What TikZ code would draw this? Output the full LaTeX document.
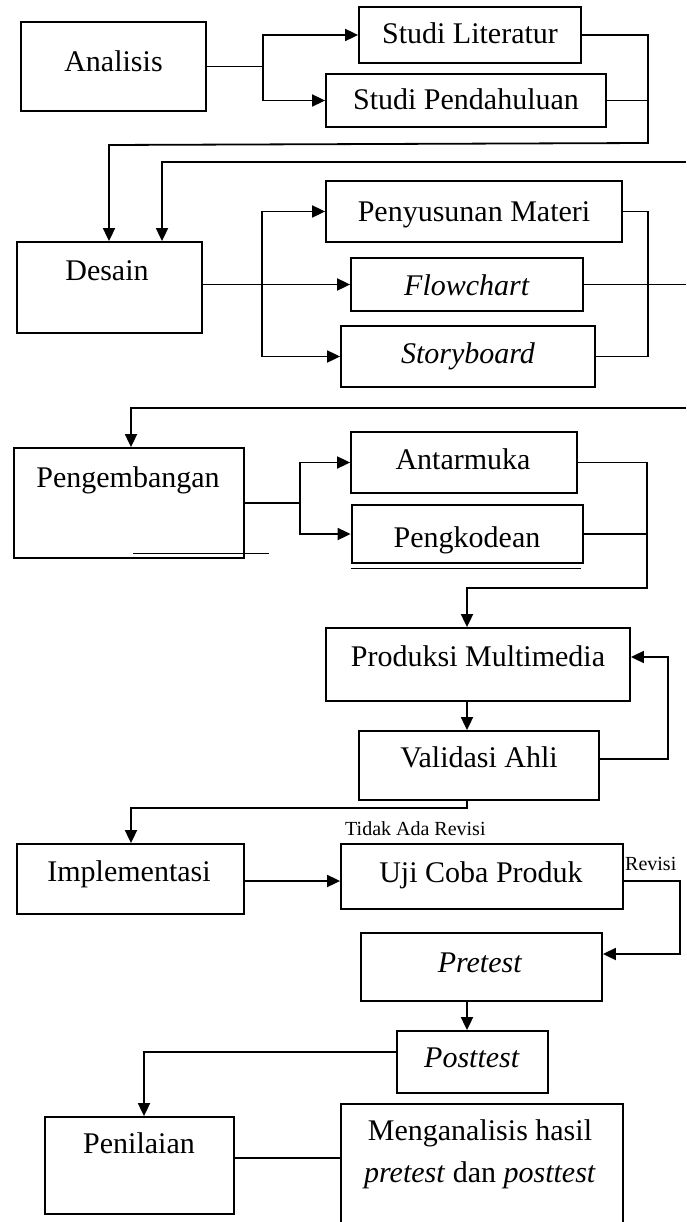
\documentclass[tikz,border=0pt]{standalone}
\usepackage{fontspec}
\setmainfont{Liberation Serif}
\usetikzlibrary{arrows.meta,calc}
\begin{document}
\begin{tikzpicture}[x=1pt,y=-1pt,
  box/.style={draw, line width=1.8pt, inner sep=0pt, rectangle},
  txt/.style={anchor=base, inner sep=0pt, font=\fontsize{30}{34}\selectfont},
  small/.style={anchor=base west, inner sep=0pt, font=\fontsize{20}{22}\selectfont},
  conn/.style={line width=1.8pt},
  arr/.style={conn, -{Triangle[length=13pt,width=12pt]}}
]
\useasboundingbox (0,0) rectangle (686,1222);

% boxes
\node[box, minimum width=185pt, minimum height=89pt] (ana) at (113.5,66.5) {};
\node[box, minimum width=222pt, minimum height=56pt] (sl) at (470,35) {};
\node[box, minimum width=280pt, minimum height=53pt] (sp) at (466,100.5) {};
\node[box, minimum width=185pt, minimum height=91pt] (des) at (109.5,287.5) {};
\node[box, minimum width=296pt, minimum height=61pt] (pm) at (474,211.5) {};
\node[box, minimum width=232pt, minimum height=53pt] (fc) at (467,284.5) {};
\node[box, minimum width=254pt, minimum height=61pt] (sb) at (468,356.5) {};
\node[box, minimum width=230pt, minimum height=110pt] (peng) at (129,503) {};
\node[box, minimum width=226pt, minimum height=61pt] (am) at (464,462.5) {};
\node[box, line width=2.8pt, minimum width=231pt, minimum height=58pt] (pk) at (467.5,534) {};
\node[box, minimum width=304pt, minimum height=73pt] (prod) at (478,664.5) {};
\node[box, minimum width=240pt, minimum height=69pt] (val) at (479,765.5) {};
\node[box, minimum width=227pt, minimum height=70pt] (impl) at (130.5,879) {};
\node[box, minimum width=282pt, minimum height=65pt] (uji) at (482,876.5) {};
\node[box, minimum width=241pt, minimum height=68pt] (pre) at (481.5,967) {};
\node[box, minimum width=151pt, minimum height=62pt] (post) at (472.5,1062) {};
\node[box, minimum width=189pt, minimum height=97pt] (pen) at (139.5,1165.5) {};
\node[box, minimum width=282pt, minimum height=128pt] (meng) at (482,1168) {};

% texts
\node[txt] (tana) at (113.5,72) {Analisis};
\node[txt] (tsl) at (470,44) {Studi Literatur};
\node[txt] (tsp) at (466,110) {Studi Pendahuluan};
\node[txt] (tdes) at (107,280) {Desain};
\node[txt] (tpm) at (474,222) {Penyusunan Materi};
\node[txt] (tfc) at (467,296) {\textit{Flowchart}};
\node[txt] (tsb) at (468,363) {\textit{Storyboard}};
\node[txt] (tpeng) at (128,487) {Pengembangan};
\node[txt] (tam) at (463,469) {Antarmuka};
\node[txt] (tpk) at (467,547) {Pengkodean};
\node[txt] (tprod) at (478,666) {Produksi Multimedia};
\node[txt] (tval) at (479,767) {Validasi Ahli};
\node[txt] (timpl) at (129,881) {Implementasi};
\node[txt] (tuji) at (481,882) {Uji Coba Produk};
\node[txt] (tpre) at (480,972) {\textit{Pretest}};
\node[txt] (tpost) at (472,1067) {\textit{Posttest}};
\node[txt] (tpen) at (139,1153) {Penilaian};
\node[txt] (tmeng1) at (480,1140) {Menganalisis hasil};
\node[txt] (tmeng2) at (480,1182) {\textit{pretest} dan \textit{posttest}};
\node[small] (ttar) at (345,835) {Tidak Ada Revisi};
\node[small] (trev) at (625,870) {Revisi};

% extra strokes
\coordinate (s1) at (133,553);
\coordinate (s2) at (269,553);
\draw[line width=1pt] (s1) -- (s2);
\draw[line width=1pt] ($(pk.south west)+(0,4)$) -- ($(pk.south east)+(-3,4)$);

% connectors
\draw[conn] (ana.east) -- ++(56,0) coordinate (j1);
\draw[arr] (j1) |- (sl.west);
\draw[arr] (j1) |- (sp.west);

\coordinate (r1) at (648,143);
\coordinate (d1) at (109,145);
\draw[arr] (sl.east) -| (r1) -- (d1) -- (d1 |- des.north);
\draw[conn] (sp.east) -- (sp.east -| r1);

\coordinate (e1) at (686,162);
\coordinate (d2) at (162,162);
\draw[arr] (e1) -- (d2) -- (d2 |- des.north);

\draw[arr] (des.east |- fc.west) -- (fc.west);
\coordinate (j2) at (262,284.5);
\draw[arr] (j2) |- (pm.west);
\draw[arr] (j2) |- (sb.west);
\draw[conn] (pm.east) -- ++(25,0) |- (sb.east);
\coordinate (e2) at (686,284.5);
\draw[conn] (fc.east) -- (e2);

\coordinate (e3) at (686,408);
\coordinate (d3) at (131,408);
\draw[arr] (e3) -- (d3) -- (d3 |- peng.north);

\coordinate (j3) at (300,503);
\draw[conn] (peng.east) -- (j3);
\draw[arr] (j3) |- (am.west);
\draw[arr] (j3) |- (pk.west);

\coordinate (r3) at (647,588);
\coordinate (d4) at (467,588);
\draw[arr] (am.east) -| (r3) -- (d4) -- (d4 |- prod.north);
\draw[conn] (pk.east) -- (pk.east -| r3);

\draw[arr] (d4 |- prod.south) -- (d4 |- val.north);
\draw[arr] ($(val.east)+(0,-6.5)$) -- ++(68,0) |- ($(prod.east)+(0,-7.5)$);

\coordinate (d6) at (131,808);
\draw[arr] (d4 |- val.south) |- (d6) -- (d6 |- impl.north);

\draw[arr] ($(impl.east)+(0,2)$) -- ($(uji.west)+(0,4.5)$);
\draw[arr] ($(uji.east)+(0,4.5)$) -- ++(56,0) |- ($(pre.east)+(0,-13)$);

\draw[arr] (d4 |- pre.south) -- (d4 |- post.north);

\coordinate (d7) at (144,1052);
\draw[arr] ($(post.west)+(0,-10)$) -- (d7) -- (d7 |- pen.north);

\draw[conn] ($(pen.east)+(0,-7.5)$) -- ($(meng.west)+(0,-10)$);
\end{tikzpicture}
\end{document}
